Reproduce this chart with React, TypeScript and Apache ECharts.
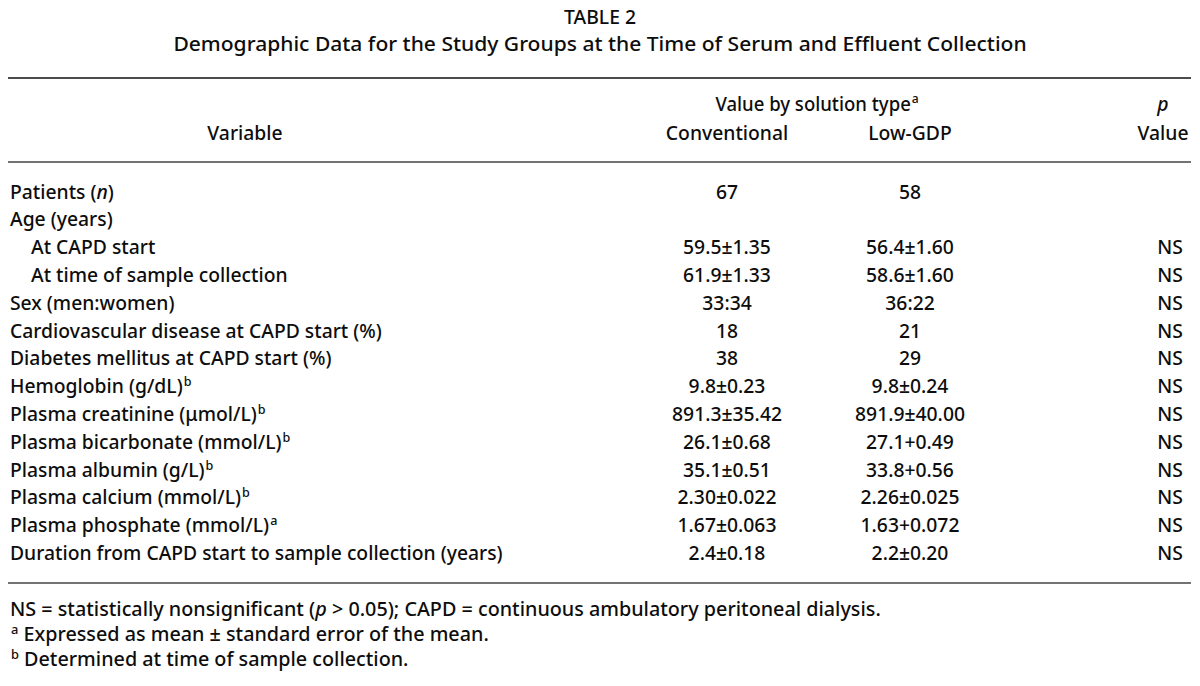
import React, { useEffect, useRef } from "react";
import * as echarts from "echarts";

const titleText = "TABLE 2";
const subtitleText =
  "Demographic Data for the Study Groups at the Time of Serum and Effluent Collection";
const groupHeader = "Value by solution type{sup|a}";
const columnHeaders = ["Conventional", "Low-GDP"];
const variableHeader = "Variable";
const pHeaderLines = ["{i|p}", "Value"];

const variables = [
  "Patients ({i|n})",
  "Age (years)",
  "At CAPD start",
  "At time of sample collection",
  "Sex (men:women)",
  "Cardiovascular disease at CAPD start (%)",
  "Diabetes mellitus at CAPD start (%)",
  "Hemoglobin (g/dL){sup|b}",
  "Plasma creatinine (\u03bcmol/L){sup|b}",
  "Plasma bicarbonate (mmol/L){sup|b}",
  "Plasma albumin (g/L){sup|b}",
  "Plasma calcium (mmol/L){sup|b}",
  "Plasma phosphate (mmol/L){sup|a}",
  "Duration from CAPD start to sample collection (years)",
];
const indentLevels = [0, 0, 1, 1, 0, 0, 0, 0, 0, 0, 0, 0, 0, 0];
const conventional = [
  "67",
  "",
  "59.5\u00b11.35",
  "61.9\u00b11.33",
  "33:34",
  "18",
  "38",
  "9.8\u00b10.23",
  "891.3\u00b135.42",
  "26.1\u00b10.68",
  "35.1\u00b10.51",
  "2.30\u00b10.022",
  "1.67\u00b10.063",
  "2.4\u00b10.18",
];
const lowGdp = [
  "58",
  "",
  "56.4\u00b11.60",
  "58.6\u00b11.60",
  "36:22",
  "21",
  "29",
  "9.8\u00b10.24",
  "891.9\u00b140.00",
  "27.1+0.49",
  "33.8+0.56",
  "2.26\u00b10.025",
  "1.63+0.072",
  "2.2\u00b10.20",
];
const pValues = ["", "", "NS", "NS", "NS", "NS", "NS", "NS", "NS", "NS", "NS", "NS", "NS", "NS"];
const footnotes = [
  "NS = statistically nonsignificant ({i|p} > 0.05); CAPD = continuous ambulatory peritoneal dialysis.",
  "{sup|a} Expressed as mean \u00b1 standard error of the mean.",
  "{sup|b} Determined at time of sample collection.",
];

const FONT = "'Noto Sans', 'DejaVu Sans', sans-serif";
const FS = 20;
const FW = 500;
const COLOR = "#0d0d0d";

function measure(text: string, font: string): number {
  const c = document.createElement("canvas").getContext("2d");
  if (!c) return text.length * 10;
  c.font = font;
  return c.measureText(text).width;
}

export default function App() {
  const ref = useRef<HTMLDivElement>(null);
  useEffect(() => {
    if (!ref.current) return;
    const chart = echarts.init(ref.current, undefined, { renderer: "svg" });

    const sx =
      493 / measure("Duration from CAPD start to sample collection (years)", `${FW} ${FS}px ${FONT}`);

    const rich = {
      i: { fontStyle: "italic", fontWeight: FW, fontFamily: FONT, fontSize: FS, fill: COLOR, lineHeight: 24 },
      sup: {
        fontFamily: FONT,
        fontWeight: FW,
        fontSize: 13,
        fill: COLOR,
        lineHeight: 24,
        verticalAlign: "top",
        padding: [1, 0, 0, 1],
      },
    };

    const txt = (x: number, y: number, text: string, align: string = "left", widen: number = 1) => ({
      type: "text",
      x,
      y,
      scaleX: sx * widen,
      silent: true,
      style: {
        x: 0,
        y: 0,
        text,
        align,
        verticalAlign: "middle",
        fontFamily: FONT,
        fontWeight: FW,
        fontSize: FS,
        fill: COLOR,
        lineHeight: 24,
        rich,
      },
    });

    const rule = (y: number, color: string) => ({
      type: "line",
      silent: true,
      shape: { x1: 8, y1: y, x2: 1191, y2: y },
      style: { stroke: color, lineWidth: 1.6 },
    });

    const LEFT = 10;
    const INDENT = 21;
    const COL1 = 727;
    const COL2 = 910;
    const COLP = 1170;
    const ROW0 = 191;
    const ROWH = 27.8;

    const elements: any[] = [];
    elements.push(txt(600, 16, titleText, "center"));
    elements.push(txt(600, 43, subtitleText, "center", 1.09));
    elements.push(rule(78, "#111"));
    elements.push(txt(817, 103, groupHeader, "center", 0.96));
    elements.push(txt(COL1, 132, columnHeaders[0], "center"));
    elements.push(txt(COL2, 132, columnHeaders[1], "center"));
    elements.push(txt(245, 132, variableHeader, "center"));
    elements.push(txt(1163, 103, pHeaderLines[0], "center"));
    elements.push(txt(1163, 132, pHeaderLines[1], "center"));
    elements.push(rule(162, "#444"));

    variables.forEach((v, i) => {
      const y = ROW0 + i * ROWH;
      elements.push(txt(LEFT + indentLevels[i] * INDENT, y, v, "left"));
      if (conventional[i]) elements.push(txt(COL1, y, conventional[i], "center"));
      if (lowGdp[i]) elements.push(txt(COL2, y, lowGdp[i], "center"));
      if (pValues[i]) elements.push(txt(COLP, y, pValues[i], "center"));
    });

    elements.push(rule(583, "#444"));
    footnotes.forEach((f, i) => {
      elements.push(txt(LEFT, 608 + i * 25, f, "left", 1.022));
    });

    chart.setOption({
      animation: false,
      backgroundColor: "#ffffff",
      graphic: { elements },
    });

    return () => chart.dispose();
  }, []);

  return (
    <div
      ref={ref}
      style={{ position: "fixed", left: 0, top: 0, width: 1200, height: 686, background: "#fff" }}
    />
  );
}
